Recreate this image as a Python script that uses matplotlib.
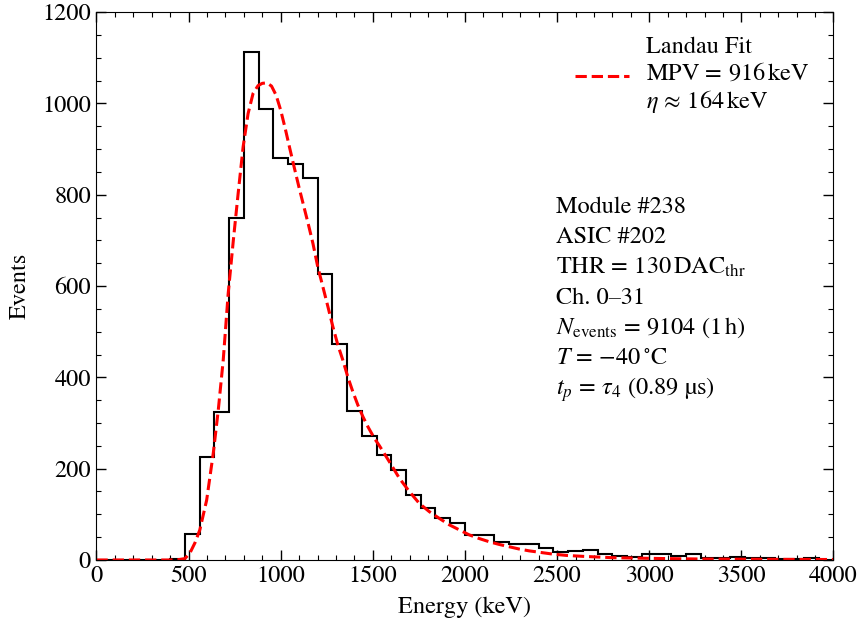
import matplotlib
matplotlib.use("Agg")
import matplotlib.pyplot as plt
import numpy as np
from matplotlib.ticker import MultipleLocator

plt.rcParams['font.family'] = ['STIXGeneral', 'DejaVu Sans']
plt.rcParams['mathtext.fontset'] = 'stix'
FS = 17.5

# histogram: 80 keV bins from 0 to 4000 keV
bin_edges = np.arange(0, 4001, 80)
counts = [0, 0, 0, 0, 1, 3, 56, 226, 324, 749,
          1113, 988, 881, 868, 837, 627, 472, 326, 271, 229,
          196, 142, 113, 93, 82, 55, 55, 40, 34, 36,
          26, 17, 20, 21, 14, 9, 6, 14, 12, 9,
          12, 5, 5, 6, 5, 5, 3, 2, 5, 1]

# Landau fit curve (energy in keV, events)
fit_e = [0, 400, 450, 480, 507, 535, 561, 598, 634, 661, 688, 715, 743, 769,
         796, 823, 850, 877, 900, 925, 950, 975, 1000, 1025, 1050, 1075,
         1100, 1125, 1150, 1175, 1201, 1229, 1256, 1283, 1310, 1337, 1364,
         1391, 1419, 1446, 1473, 1509, 1536, 1590, 1644, 1698, 1752, 1806,
         1861, 1915, 1969, 2023, 2077, 2131, 2186, 2240, 2294, 2348, 2402,
         2474, 2550, 2638, 2800, 2944, 3100, 3305, 3600, 4000]
fit_n = [0, 0, 1, 3, 15, 38, 66, 131, 234, 328, 438, 584, 701, 803,
         905, 978, 1022, 1039, 1044, 1045, 1038, 1018, 985, 944, 900, 857,
         815, 775, 735, 693, 642, 598, 555, 511, 471, 438, 401,
         369, 339, 314, 292, 266, 250, 215, 179, 150, 124, 106,
         91, 77, 66, 55, 47, 40, 34, 29, 24, 20, 17,
         13, 10, 8, 5, 4, 3, 2, 1.5, 1]

info_lines = ["Module #238",
              "ASIC #202",
              r"$\mathrm{THR}\,=\,130\,\mathrm{DAC}_{\mathrm{thr}}$",
              "Ch. 0\u201331",
              r"$N_{\mathrm{events}}\,=\,9104$ (1$\,$h)",
              r"$T\,=\,{-}40\,^{\circ}\mathrm{C}$",
              r"$t_p\,=\,\tau_4$ (0.89 µs)"]

fig = plt.figure(figsize=(8.59, 6.24), dpi=100)
ax = fig.add_axes([0.1123, 0.1026, 0.858, 0.878])

ax.stairs(counts, bin_edges, color='black', lw=1.5)
ax.plot(fit_e, fit_n, color='red', ls='--', lw=2.2,
        label="Landau Fit\n$\\mathrm{MPV}\\,=\\,916\\,\\mathrm{keV}$\n$\\eta\\,\\approx\\,164\\,\\mathrm{keV}$")

ax.set_xlim(0, 4000)
ax.set_ylim(0, 1200)
ax.xaxis.set_major_locator(MultipleLocator(500))
ax.xaxis.set_minor_locator(MultipleLocator(100))
ax.yaxis.set_major_locator(MultipleLocator(200))
ax.yaxis.set_minor_locator(MultipleLocator(50))
ax.tick_params(which='both', direction='in', top=True, right=True, labelsize=FS)
ax.tick_params(which='major', length=7, width=1, pad=4)
ax.tick_params(which='minor', length=3.5, width=0.8)

ax.set_xlabel("Energy (keV)", fontsize=FS, labelpad=7)
ax.set_ylabel("Events", fontsize=FS, labelpad=8)

leg = ax.legend(loc='upper right', bbox_to_anchor=(0.9864, 0.9818),
                frameon=False, fontsize=FS, handlelength=2.2,
                handletextpad=0.7, borderaxespad=0.2, labelspacing=0.2)

for i, line in enumerate(info_lines):
    ax.text(0.624, 0.634 - i * 0.0553, line, transform=ax.transAxes,
            fontsize=FS, va='baseline', ha='left')

fig.savefig("out.png", dpi=100)
